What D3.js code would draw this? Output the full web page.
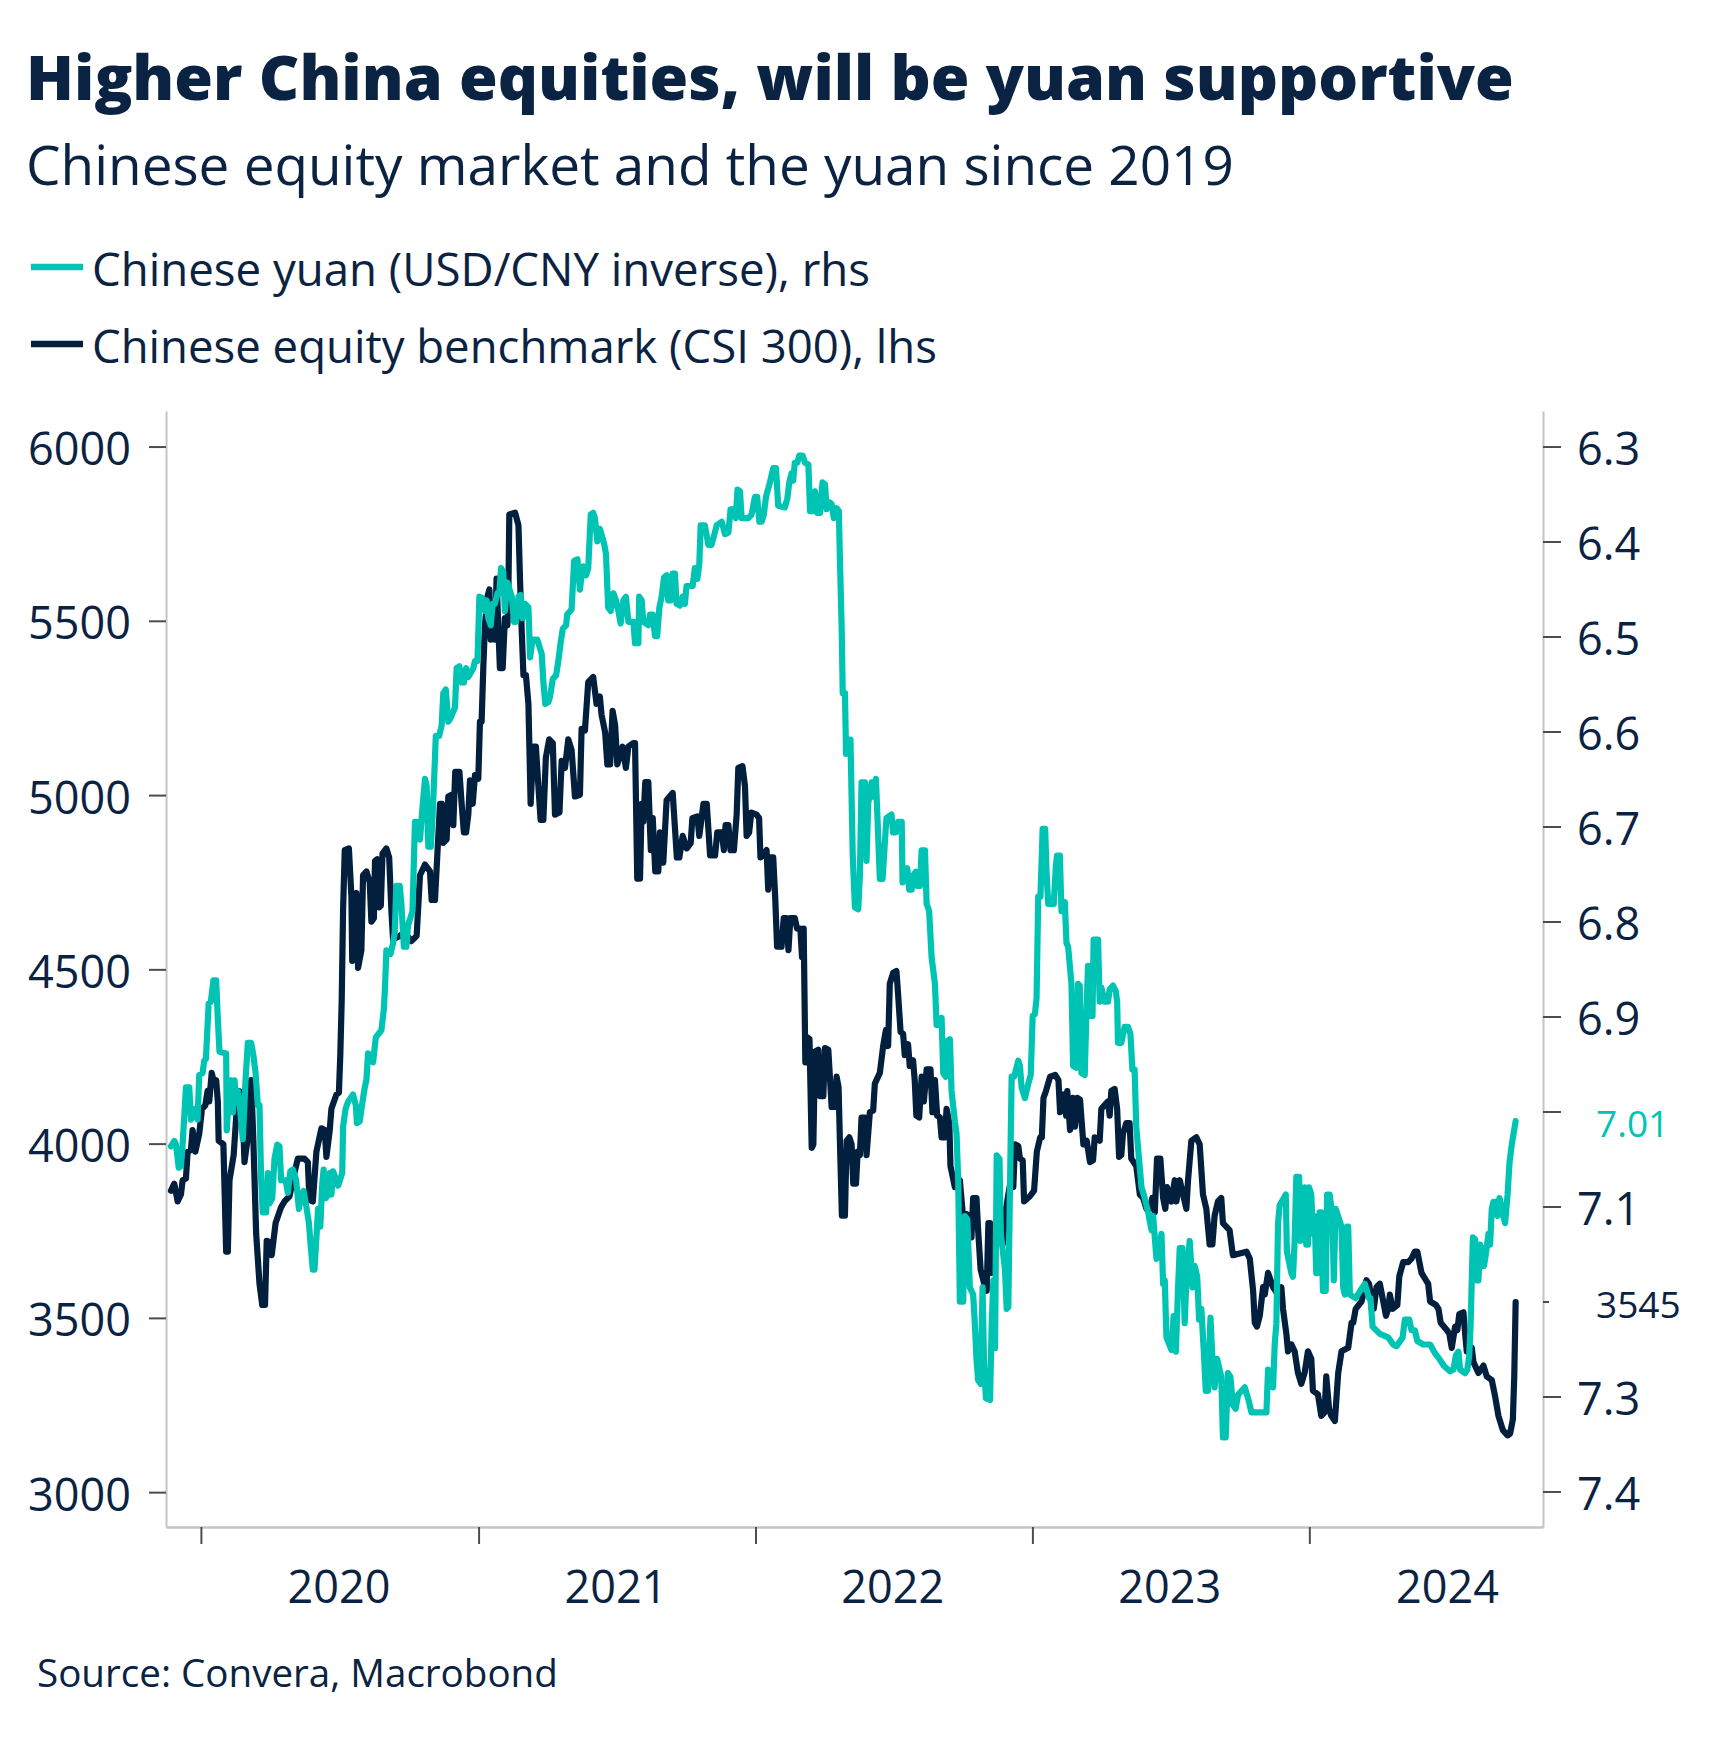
<!DOCTYPE html>
<html><head><meta charset="utf-8">
<script src="https://cdn.jsdelivr.net/npm/d3@7"></script>
<style>body{margin:0;background:#fff}</style>
</head><body>
<svg id="chart" width="1730" height="1737"></svg>
<script>
// ---------- DATA (dates as decimal years) ----------
const csiDates = [2019.892,2019.904,2019.916,2019.928,2019.934,2019.946,2019.952,2019.964,2019.970,2019.980,2019.994,2020.004,2020.016,2020.024,2020.030,2020.039,2020.048,2020.055,2020.061,2020.064,2020.081,2020.091,2020.097,2020.103,2020.118,2020.127,2020.136,2020.148,2020.157,2020.169,2020.181,2020.189,2020.199,2020.211,2020.221,2020.231,2020.237,2020.249,2020.255,2020.269,2020.289,2020.301,2020.319,2020.337,2020.349,2020.373,2020.385,2020.391,2020.403,2020.416,2020.434,2020.446,2020.452,2020.464,2020.470,2020.488,2020.497,2020.502,2020.507,2020.512,2020.518,2020.533,2020.542,2020.545,2020.554,2020.560,2020.566,2020.578,2020.584,2020.596,2020.608,2020.614,2020.623,2020.627,2020.635,2020.642,2020.648,2020.654,2020.668,2020.678,2020.686,2020.692,2020.716,2020.734,2020.758,2020.777,2020.789,2020.807,2020.825,2020.831,2020.843,2020.851,2020.861,2020.868,2020.873,2020.885,2020.891,2020.903,2020.909,2020.916,2020.931,2020.939,2020.947,2020.955,2020.963,2020.969,2020.979,2020.987,2020.999,2021.005,2021.011,2021.017,2021.023,2021.032,2021.039,2021.044,2021.053,2021.059,2021.065,2021.071,2021.077,2021.087,2021.095,2021.104,2021.107,2021.111,2021.132,2021.144,2021.150,2021.156,2021.162,2021.171,2021.180,2021.188,2021.198,2021.207,2021.216,2021.224,2021.234,2021.243,2021.255,2021.268,2021.276,2021.292,2021.300,2021.312,2021.324,2021.336,2021.348,2021.366,2021.372,2021.384,2021.396,2021.414,2021.426,2021.438,2021.444,2021.457,2021.465,2021.475,2021.484,2021.493,2021.501,2021.520,2021.532,2021.541,2021.559,2021.565,2021.573,2021.583,2021.589,2021.595,2021.602,2021.613,2021.622,2021.629,2021.638,2021.649,2021.655,2021.667,2021.679,2021.701,2021.716,2021.725,2021.737,2021.752,2021.766,2021.772,2021.790,2021.797,2021.812,2021.824,2021.836,2021.854,2021.862,2021.878,2021.886,2021.892,2021.902,2021.910,2021.922,2021.932,2021.938,2021.953,2021.962,2021.968,2021.977,2021.985,2022.004,2022.013,2022.018,2022.040,2022.046,2022.054,2022.064,2022.071,2022.078,2022.094,2022.102,2022.112,2022.119,2022.126,2022.142,2022.150,2022.162,2022.168,2022.174,2022.180,2022.187,2022.195,2022.203,2022.209,2022.215,2022.227,2022.233,2022.245,2022.251,2022.263,2022.275,2022.287,2022.293,2022.300,2022.305,2022.312,2022.323,2022.329,2022.339,2022.347,2022.353,2022.363,2022.369,2022.377,2022.383,2022.395,2022.401,2022.413,2022.425,2022.431,2022.449,2022.461,2022.471,2022.479,2022.485,2022.497,2022.509,2022.515,2022.524,2022.533,2022.539,2022.551,2022.557,2022.569,2022.575,2022.581,2022.591,2022.600,2022.608,2022.618,2022.632,2022.639,2022.648,2022.656,2022.666,2022.672,2022.684,2022.690,2022.700,2022.704,2022.720,2022.738,2022.748,2022.774,2022.780,2022.786,2022.798,2022.804,2022.813,2022.829,2022.835,2022.841,2022.847,2022.853,2022.865,2022.883,2022.893,2022.901,2022.913,2022.922,2022.931,2022.937,2022.949,2022.955,2022.965,2022.970,2022.991,2023.006,2023.016,2023.028,2023.034,2023.040,2023.049,2023.064,2023.082,2023.094,2023.100,2023.112,2023.122,2023.126,2023.136,2023.146,2023.154,2023.162,2023.172,2023.184,2023.196,2023.208,2023.219,2023.225,2023.243,2023.249,2023.273,2023.279,2023.285,2023.297,2023.306,2023.313,2023.321,2023.327,2023.339,2023.351,2023.357,2023.375,2023.388,2023.400,2023.412,2023.424,2023.433,2023.442,2023.450,2023.462,2023.472,2023.480,2023.486,2023.502,2023.514,2023.520,2023.532,2023.550,2023.556,2023.562,2023.574,2023.592,2023.604,2023.616,2023.628,2023.640,2023.650,2023.658,2023.670,2023.682,2023.688,2023.712,2023.724,2023.773,2023.785,2023.797,2023.803,2023.811,2023.821,2023.833,2023.839,2023.851,2023.869,2023.887,2023.899,2023.905,2023.917,2023.923,2023.935,2023.947,2023.959,2023.971,2023.983,2023.995,2024.007,2024.013,2024.031,2024.043,2024.055,2024.061,2024.071,2024.079,2024.092,2024.104,2024.116,2024.140,2024.152,2024.158,2024.167,2024.188,2024.206,2024.215,2024.232,2024.242,2024.254,2024.276,2024.284,2024.290,2024.300,2024.317,2024.324,2024.338,2024.356,2024.368,2024.380,2024.389,2024.404,2024.420,2024.428,2024.435,2024.456,2024.465,2024.473,2024.495,2024.504,2024.513,2024.525,2024.533,2024.540,2024.555,2024.561,2024.567,2024.585,2024.591,2024.609,2024.627,2024.639,2024.657,2024.669,2024.681,2024.697,2024.714,2024.723,2024.733,2024.738,2024.743];
const csiValues = [3865,3885,3834,3854,3895,3900,3977,3982,4039,3977,4028,4100,4110,4151,4121,4203,4172,4182,4121,4008,3998,3690,3690,3895,3967,4075,4151,4146,3947,4018,4182,4008,3742,3598,3537,3537,3721,3716,3680,3772,3818,3834,3849,3916,3957,3957,3947,3839,3834,3977,4044,4039,3962,4039,4100,4141,4146,4254,4408,4668,4842,4847,4709,4524,4709,4719,4504,4555,4770,4781,4750,4637,4647,4811,4816,4678,4683,4832,4847,4821,4668,4586,4596,4606,4581,4596,4770,4801,4781,4699,4699,4821,4975,4975,4863,4873,4996,5001,4914,5067,5067,4975,4893,4893,4944,5042,4975,5057,5047,5211,5211,5364,5487,5569,5590,5446,5487,5446,5621,5487,5364,5364,5508,5487,5539,5805,5810,5774,5610,5467,5344,5344,5262,4975,5139,5139,5026,4929,4929,5108,5160,5149,4944,4950,5098,5078,5160,5129,4996,5001,5190,5185,5324,5339,5262,5283,5231,5180,5088,5088,5242,5201,5088,5139,5078,5139,5149,5149,4760,4760,4975,4924,5037,5037,4842,4934,4781,4781,4893,4806,4985,5006,4821,4821,4883,4847,4862,4934,4939,4883,4975,4975,4827,4827,4893,4893,4842,4914,4914,4842,4842,4944,5078,5083,5026,4883,4893,4950,4944,4934,4821,4842,4729,4821,4821,4709,4565,4565,4647,4647,4555,4647,4647,4617,4617,4535,4617,4233,4305,4300,3988,3998,4264,4269,4136,4136,4274,4269,4105,4105,4192,4162,4003,3793,3793,4008,4018,3998,3885,3885,3977,3967,4075,4075,3967,4090,4095,4172,4203,4280,4326,4280,4459,4490,4495,4428,4320,4315,4254,4285,4223,4239,4182,4080,4075,4192,4121,4213,4213,4090,4182,4080,4075,4018,4018,4100,4059,3936,3875,3895,3803,3793,3731,3844,3844,3752,3639,3588,3578,3772,3772,3629,3731,3813,3711,3793,3854,3895,3875,3998,3993,3957,3952,3834,3849,3865,3977,4018,4018,4131,4151,4192,4197,4182,4090,4141,4080,4151,4039,4131,4049,4131,4126,3998,4008,3947,3952,4018,4008,4100,4121,4080,4151,4157,4100,3962,3967,4028,4059,4059,3957,3936,3854,3844,3813,3813,3844,3803,3957,3957,3844,3813,3875,3834,3895,3834,3895,3834,3813,3895,4008,4018,3998,3854,3813,3711,3711,3793,3834,3844,3772,3752,3680,3690,3670,3578,3486,3475,3506,3588,3567,3629,3588,3567,3588,3526,3455,3404,3424,3404,3342,3311,3342,3404,3383,3291,3281,3219,3229,3332,3240,3219,3204,3342,3404,3414,3486,3486,3526,3547,3608,3598,3526,3588,3598,3506,3526,3567,3526,3537,3619,3660,3660,3670,3690,3690,3629,3608,3598,3547,3537,3526,3486,3465,3455,3414,3475,3465,3511,3516,3455,3404,3414,3373,3342,3363,3332,3322,3275,3219,3178,3163,3168,3209,3332,3545];

const cnyDates = [2019.892,2019.904,2019.910,2019.920,2019.928,2019.934,2019.946,2019.958,2019.964,2019.976,2019.988,2019.994,2020.006,2020.012,2020.018,2020.028,2020.036,2020.045,2020.055,2020.061,2020.067,2020.091,2020.093,2020.103,2020.109,2020.115,2020.121,2020.127,2020.133,2020.141,2020.151,2020.160,2020.169,2020.181,2020.189,2020.197,2020.205,2020.211,2020.217,2020.223,2020.235,2020.241,2020.247,2020.257,2020.265,2020.275,2020.283,2020.289,2020.305,2020.313,2020.322,2020.331,2020.343,2020.353,2020.361,2020.370,2020.379,2020.389,2020.395,2020.403,2020.409,2020.416,2020.422,2020.430,2020.437,2020.442,2020.449,2020.458,2020.464,2020.470,2020.476,2020.494,2020.509,2020.512,2020.521,2020.530,2020.548,2020.558,2020.562,2020.572,2020.582,2020.590,2020.596,2020.602,2020.614,2020.620,2020.630,2020.650,2020.659,2020.663,2020.668,2020.683,2020.692,2020.698,2020.704,2020.716,2020.722,2020.731,2020.740,2020.746,2020.762,2020.771,2020.779,2020.789,2020.798,2020.807,2020.813,2020.819,2020.828,2020.834,2020.840,2020.846,2020.858,2020.867,2020.873,2020.882,2020.891,2020.899,2020.915,2020.921,2020.931,2020.939,2020.947,2020.955,2020.963,2020.981,2020.987,2020.996,2021.003,2021.015,2021.023,2021.029,2021.035,2021.044,2021.051,2021.059,2021.068,2021.075,2021.081,2021.089,2021.095,2021.104,2021.120,2021.128,2021.135,2021.144,2021.152,2021.159,2021.168,2021.180,2021.186,2021.195,2021.212,2021.228,2021.234,2021.241,2021.252,2021.258,2021.268,2021.280,2021.288,2021.296,2021.304,2021.316,2021.320,2021.336,2021.345,2021.357,2021.366,2021.372,2021.378,2021.388,2021.396,2021.405,2021.414,2021.420,2021.429,2021.438,2021.453,2021.460,2021.468,2021.477,2021.487,2021.496,2021.505,2021.513,2021.523,2021.532,2021.541,2021.559,2021.565,2021.577,2021.580,2021.589,2021.595,2021.613,2021.619,2021.629,2021.637,2021.645,2021.653,2021.661,2021.670,2021.679,2021.685,2021.694,2021.701,2021.709,2021.715,2021.727,2021.737,2021.745,2021.751,2021.773,2021.781,2021.790,2021.797,2021.802,2021.817,2021.830,2021.841,2021.850,2021.860,2021.878,2021.890,2021.902,2021.910,2021.920,2021.929,2021.935,2021.944,2021.950,2021.974,2021.986,2021.998,2022.006,2022.014,2022.022,2022.030,2022.038,2022.052,2022.064,2022.074,2022.082,2022.106,2022.115,2022.122,2022.130,2022.136,2022.142,2022.151,2022.158,2022.170,2022.179,2022.191,2022.197,2022.206,2022.215,2022.223,2022.233,2022.242,2022.251,2022.257,2022.266,2022.275,2022.283,2022.293,2022.301,2022.305,2022.311,2022.315,2022.323,2022.327,2022.335,2022.343,2022.351,2022.359,2022.371,2022.377,2022.383,2022.395,2022.401,2022.407,2022.419,2022.428,2022.435,2022.443,2022.449,2022.459,2022.467,2022.473,2022.491,2022.497,2022.507,2022.515,2022.528,2022.531,2022.548,2022.555,2022.564,2022.570,2022.579,2022.584,2022.594,2022.600,2022.612,2022.618,2022.627,2022.636,2022.648,2022.654,2022.663,2022.672,2022.678,2022.687,2022.692,2022.702,2022.708,2022.720,2022.726,2022.732,2022.738,2022.750,2022.756,2022.765,2022.774,2022.786,2022.792,2022.798,2022.804,2022.813,2022.820,2022.825,2022.832,2022.847,2022.853,2022.859,2022.865,2022.871,2022.881,2022.886,2022.901,2022.907,2022.913,2022.919,2022.925,2022.934,2022.949,2022.955,2022.961,2022.973,2022.985,2022.994,2023.001,2023.009,2023.015,2023.021,2023.029,2023.037,2023.046,2023.051,2023.057,2023.077,2023.085,2023.089,2023.099,2023.105,2023.117,2023.123,2023.129,2023.141,2023.147,2023.159,2023.165,2023.171,2023.177,2023.189,2023.195,2023.201,2023.209,2023.217,2023.221,2023.237,2023.243,2023.249,2023.261,2023.273,2023.279,2023.291,2023.301,2023.306,2023.309,2023.321,2023.333,2023.345,2023.354,2023.361,2023.369,2023.375,2023.385,2023.394,2023.402,2023.418,2023.430,2023.436,2023.448,2023.457,2023.466,2023.472,2023.478,2023.484,2023.502,2023.510,2023.518,2023.526,2023.532,2023.542,2023.550,2023.556,2023.568,2023.578,2023.586,2023.595,2023.602,2023.610,2023.619,2023.626,2023.634,2023.643,2023.650,2023.658,2023.667,2023.682,2023.688,2023.698,2023.706,2023.715,2023.724,2023.734,2023.743,2023.767,2023.782,2023.791,2023.845,2023.851,2023.859,2023.869,2023.875,2023.881,2023.887,2023.893,2023.915,2023.919,2023.935,2023.941,2023.947,2023.953,2023.963,2023.968,2023.977,2023.983,2023.989,2023.995,2023.999,2024.007,2024.013,2024.019,2024.025,2024.031,2024.037,2024.043,2024.049,2024.059,2024.064,2024.073,2024.083,2024.088,2024.095,2024.116,2024.122,2024.128,2024.136,2024.140,2024.146,2024.167,2024.191,2024.200,2024.215,2024.220,2024.228,2024.254,2024.284,2024.302,2024.314,2024.336,2024.344,2024.360,2024.368,2024.380,2024.389,2024.410,2024.435,2024.453,2024.468,2024.485,2024.507,2024.519,2024.528,2024.537,2024.543,2024.561,2024.569,2024.576,2024.581,2024.589,2024.597,2024.603,2024.609,2024.615,2024.625,2024.629,2024.637,2024.645,2024.651,2024.657,2024.663,2024.673,2024.678,2024.685,2024.699,2024.705,2024.714,2024.721,2024.729,2024.743];
const cnyValues = [7.0367,7.0310,7.0348,7.0592,7.0574,7.0348,6.9747,6.9747,7.0085,6.9972,7.0085,6.9615,6.9596,6.9465,6.9446,6.8863,6.8844,6.8619,6.8619,6.9032,6.9371,6.9389,7.0198,6.9709,6.9671,7.0010,6.9671,6.9897,6.9784,6.9972,7.0292,6.9709,6.9277,6.9277,6.9408,6.9596,6.9935,6.9935,7.0724,7.1062,7.1062,7.0649,7.0968,7.0912,7.0499,7.0348,7.0367,7.0724,7.0724,7.0856,7.0630,7.0611,7.0724,7.1025,7.0874,7.0837,7.0987,7.1175,7.1401,7.1664,7.1664,7.1326,7.1025,7.1213,7.0762,7.0611,7.0912,7.0874,7.0649,7.0874,7.0630,7.0781,7.0649,7.0160,6.9972,6.9897,6.9822,6.9935,7.0123,7.0104,6.9897,6.9747,6.9671,6.9389,6.9408,6.9483,6.9220,6.9145,6.8920,6.8694,6.8303,6.8341,6.8228,6.8115,6.7626,6.7626,6.7814,6.8266,6.8266,6.8040,6.7890,6.6950,6.6950,6.7138,6.6799,6.6499,6.6574,6.7213,6.7213,6.6912,6.6499,6.6047,6.6047,6.5935,6.5596,6.5559,6.5897,6.5859,6.5747,6.5333,6.5314,6.5484,6.5484,6.5333,6.5427,6.5333,6.5258,6.5258,6.4581,6.4600,6.4732,6.4619,6.4807,6.4882,6.4656,6.4656,6.4544,6.4544,6.4280,6.4318,6.4732,6.4431,6.4581,6.4845,6.4845,6.4581,6.4562,6.4807,6.4656,6.4694,6.5220,6.5032,6.5032,6.5183,6.5483,6.5709,6.5690,6.5634,6.5446,6.5408,6.5258,6.5070,6.4920,6.4882,6.4769,6.4713,6.4205,6.4187,6.4506,6.4356,6.4262,6.4356,6.4281,6.3716,6.3698,6.3754,6.3999,6.3867,6.4017,6.4130,6.4694,6.4732,6.4544,6.4619,6.4732,6.4863,6.4619,6.4581,6.4845,6.4845,6.5070,6.5070,6.4581,6.4619,6.4845,6.4882,6.4769,6.4769,6.4995,6.4995,6.4694,6.4581,6.4375,6.4356,6.4619,6.4619,6.4337,6.4337,6.4656,6.4675,6.4581,6.4656,6.4468,6.4468,6.4280,6.4393,6.4243,6.3829,6.3829,6.4036,6.4036,6.3942,6.3829,6.3792,6.3923,6.3905,6.3660,6.3660,6.3754,6.3453,6.3472,6.3754,6.3754,6.3716,6.3529,6.3529,6.3792,6.3792,6.3716,6.3529,6.3378,6.3228,6.3228,6.3623,6.3641,6.3547,6.3378,6.3284,6.3359,6.3171,6.3171,6.3096,6.3096,6.3171,6.3190,6.3679,6.3679,6.3472,6.3698,6.3698,6.3378,6.3397,6.3660,6.3585,6.3604,6.3754,6.3649,6.3679,6.4205,6.4882,6.5596,6.5596,6.6235,6.6085,6.6085,6.7288,6.7852,6.7871,6.7514,6.6536,6.6536,6.7363,6.6762,6.6536,6.6687,6.6499,6.7100,6.7551,6.7551,6.7175,6.6912,6.6875,6.7062,6.7062,6.6950,6.6950,6.7589,6.7438,6.7664,6.7664,6.7514,6.7476,6.7626,6.7626,6.7250,6.7250,6.7814,6.7890,6.8378,6.8656,6.9089,6.9089,6.9014,6.9596,6.9634,6.9258,6.9239,6.9784,7.0104,7.0235,7.0724,7.2002,7.2002,7.1100,7.1138,7.1852,7.1927,7.2228,7.2604,7.2829,7.2867,7.1852,7.2604,7.3017,7.3036,7.2228,7.1777,7.2491,7.0461,7.0499,7.1288,7.1664,7.2077,7.2059,7.0799,6.9634,6.9634,6.9465,6.9521,6.9747,6.9859,6.9709,6.9615,6.8995,6.8976,6.8807,6.7739,6.7739,6.7025,6.7025,6.7476,6.7814,6.7814,6.7401,6.7307,6.7307,6.7890,6.7796,6.8228,6.8266,6.8656,6.9521,6.9540,6.8656,6.8675,6.9596,6.9615,6.8957,6.8468,6.8995,6.8995,6.8190,6.8190,6.8844,6.8694,6.8844,6.8844,6.8713,6.8675,6.8732,6.8844,6.9277,6.9277,6.9108,6.9108,6.9183,6.9559,6.9559,7.0160,7.0499,7.0799,7.0874,7.1062,7.1250,7.1100,7.1551,7.1514,7.1288,7.1814,7.1777,7.2378,7.2510,7.2153,7.2528,7.1852,7.1438,7.1438,7.2228,7.1777,7.1363,7.1852,7.1626,7.1739,7.2190,7.2077,7.2528,7.2942,7.2942,7.2171,7.2604,7.2904,7.2604,7.2792,7.3431,7.3431,7.2754,7.2792,7.3092,7.3130,7.2980,7.2904,7.3055,7.3168,7.3168,7.2717,7.2735,7.2904,7.2453,7.2228,7.1175,7.0987,7.0874,7.1476,7.1701,7.1739,7.1363,7.0687,7.0687,7.1363,7.1326,7.0799,7.1401,7.1401,7.0799,7.0874,7.1288,7.1100,7.1701,7.1701,7.1062,7.1062,7.1889,7.1889,7.0874,7.0874,7.1100,7.1777,7.1025,7.1213,7.1852,7.1927,7.1213,7.1213,7.1927,7.1965,7.1852,7.1814,7.1965,7.1965,7.2265,7.2341,7.2378,7.2453,7.2472,7.2378,7.2190,7.2190,7.2303,7.2303,7.2416,7.2453,7.2453,7.2547,7.2604,7.2679,7.2735,7.2717,7.2566,7.2529,7.2717,7.2754,7.2717,7.2566,7.2228,7.1326,7.1344,7.1777,7.1777,7.1401,7.1476,7.1626,7.1476,7.1288,7.1401,7.1025,7.0950,7.0950,7.1100,7.0912,7.1100,7.1175,7.0874,7.0536,7.0348,7.0100];

const leftTicks = [3000, 3500, 4000, 4500, 5000, 5500, 6000];
const rightTicks = [6.3, 6.4, 6.5, 6.6, 6.7, 6.8, 6.9, 7.0, 7.1, 7.2, 7.3, 7.4];
const rightHiddenLabels = [7.0, 7.2];
const yearLabels = [2020, 2021, 2022, 2023, 2024];
const xDomain = ["2019-11-16", "2024-11-04"];
const leftDomain = [2900, 6102];
const rightDomain = [6.2626, 7.4374];
const lastCny = 7.01, lastCsi = 3545;

const titleText = "Higher China equities, will be yuan supportive";
const subtitleText = "Chinese equity market and the yuan since 2019";
const legendItems = ["Chinese yuan (USD/CNY inverse), rhs", "Chinese equity benchmark (CSI 300), lhs"];
const sourceText = "Source: Convera, Macrobond";

// ---------- STYLE ----------
const TEAL = "#00c4b3", NAVY = "#021f3d", TEXT = "#0b2342";
const FONT = "'Open Sans', 'Noto Sans', sans-serif";
const M = {left: 166, right: 1543, top: 411, bottom: 1527};

function decYear(t) {
  const y = Math.floor(t);
  const a = Date.UTC(y, 0, 1), b = Date.UTC(y + 1, 0, 1);
  return new Date(a + (t - y) * (b - a));
}

const svg = d3.select("#chart");
const x = d3.scaleUtc().domain(xDomain.map(d => new Date(d + "T00:00:00Z"))).range([M.left, M.right]);
const yL = d3.scaleLinear().domain(leftDomain).range([M.bottom, M.top]);
const yR = d3.scaleLinear().domain(rightDomain).range([M.top, M.bottom]);

function fit(sel, w) {
  const len = sel.node().getComputedTextLength();
  const fs = parseFloat(sel.attr("font-size"));
  sel.attr("font-size", (fs * w / len).toFixed(2));
}

// Titles
fit(svg.append("text").attr("x", 26).attr("y", 100).attr("font-family", FONT).attr("font-weight", 800)
  .attr("font-size", 66).attr("fill", TEXT).text(titleText), 1488);
fit(svg.append("text").attr("x", 26).attr("y", 185).attr("font-family", FONT)
  .attr("font-size", 54).attr("fill", TEXT).text(subtitleText), 1208);

// Legend
const legColors = [TEAL, NAVY];
const legY = [267, 344];
const legW = [778, 845];
legendItems.forEach((t, i) => {
  svg.append("line").attr("x1", 31).attr("x2", 83).attr("y1", legY[i]).attr("y2", legY[i])
    .attr("stroke", legColors[i]).attr("stroke-width", 6.5);
  fit(svg.append("text").attr("x", 92).attr("y", legY[i] + 19).attr("font-family", FONT)
    .attr("font-size", 44).attr("fill", TEXT).text(t), legW[i]);
});

// Axes
function styleAxis(g) {
  g.select(".domain").attr("stroke", "#c4c4c4").attr("stroke-width", 2);
  g.selectAll(".tick line").attr("stroke", "#4d4d4d").attr("stroke-width", 2);
  g.selectAll(".tick text").attr("font-family", FONT).attr("font-size", 45).attr("fill", TEXT);
}
const gL = svg.append("g").attr("transform", `translate(${M.left},0)`)
  .call(d3.axisLeft(yL).tickValues(leftTicks).tickSize(17).tickSizeOuter(0).tickPadding(18).tickFormat(d3.format("d")));
styleAxis(gL);
gL.selectAll(".tick text").attr("dy", "0.4em");

const gR = svg.append("g").attr("transform", `translate(${M.right},0)`)
  .call(d3.axisRight(yR).tickValues(rightTicks).tickSize(18).tickSizeOuter(0).tickPadding(16)
    .tickFormat(d => rightHiddenLabels.includes(d) ? "" : d3.format(".1f")(d)));
styleAxis(gR);
gR.selectAll(".tick text").attr("dy", "0.4em");
gR.selectAll(".tick").filter(d => d === 7.2).select("line").attr("x2", 6);

const yearStarts = yearLabels.map(y => new Date(Date.UTC(y, 0, 1)));
const gB = svg.append("g").attr("transform", `translate(0,${M.bottom})`)
  .call(d3.axisBottom(x).tickValues(yearStarts).tickSize(17).tickSizeOuter(0).tickFormat(""));
styleAxis(gB);
gB.select(".domain").attr("stroke-width", 2.5);

svg.append("g").selectAll("text").data(yearLabels).join("text")
  .attr("x", d => x(new Date(Date.UTC(d, 6, 1))))
  .attr("y", 1603).attr("text-anchor", "middle").attr("font-family", FONT).attr("font-size", 45)
  .attr("fill", TEXT).text(d => d);

// Lines
const csi = csiDates.map((t, i) => ({d: decYear(t), v: csiValues[i]}));
const cny = cnyDates.map((t, i) => ({d: decYear(t), v: cnyValues[i]}));

svg.append("path").datum(csi).attr("fill", "none").attr("stroke", NAVY).attr("stroke-width", 6.2)
  .attr("stroke-linejoin", "round").attr("stroke-linecap", "round")
  .attr("d", d3.line().x(p => x(p.d)).y(p => yL(p.v)));
svg.append("path").datum(cny).attr("fill", "none").attr("stroke", TEAL).attr("stroke-width", 6.2)
  .attr("stroke-linejoin", "round").attr("stroke-linecap", "round")
  .attr("d", d3.line().x(p => x(p.d)).y(p => yR(p.v)));

// Last-value labels
svg.append("text").attr("x", 1596).attr("y", yR(lastCny)).attr("dy", "0.44em")
  .attr("font-family", FONT).attr("font-size", 37).attr("fill", TEAL).text(d3.format(".2f")(lastCny));
svg.append("text").attr("x", 1596).attr("y", yL(lastCsi)).attr("dy", "0.42em")
  .attr("font-family", FONT).attr("font-size", 37).attr("fill", TEXT).text(lastCsi);

// Source
fit(svg.append("text").attr("x", 37).attr("y", 1687).attr("font-family", FONT)
  .attr("font-size", 38).attr("fill", TEXT).text(sourceText), 521);
</script>
</body></html>
